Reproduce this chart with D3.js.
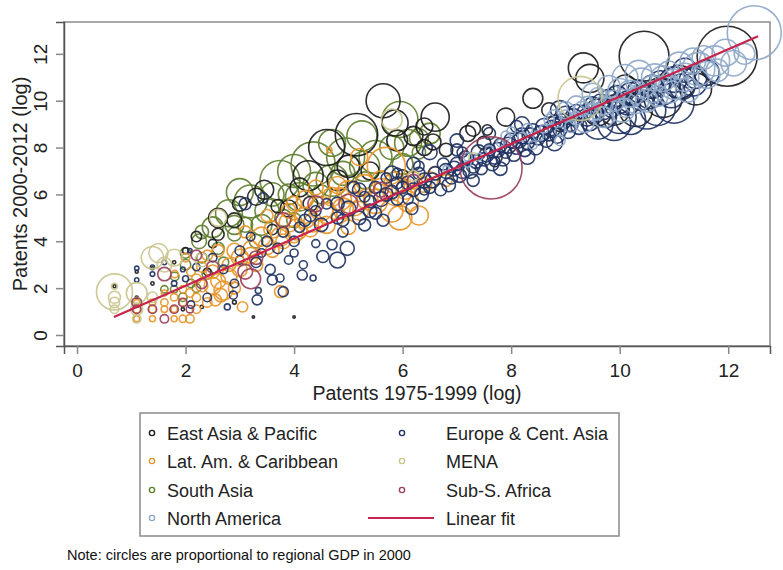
<!DOCTYPE html>
<html>
<head>
<meta charset="utf-8">
<script src="https://cdn.jsdelivr.net/npm/d3@7"></script>
<style>
  html, body { margin: 0; padding: 0; background: #fff; }
  svg { display: block; font-family: "Liberation Sans", Arial, sans-serif; }
</style>
</head>
<body>
<svg id="chart" width="783" height="570"></svg>
<script>
// ---------------- DATA ----------------
// each point: [patents 1975-1999 (log), patents 2000-2012 (log), regional GDP 2000 (relative)]
const eastAsia = [
  [11.98, 11.9, 100], [10.45, 11.9, 69], [9.33, 11.4, 25], [9.45, 10.95, 22], [8.4, 10.1, 11],
  [5.64, 10.0, 32], [5.86, 9.05, 19], [6.6, 9.3, 22], [5.15, 8.55, 50], [4.6, 8.0, 36],
  [4.26, 6.8, 25], [10.8, 10.1, 40], [10.3, 9.6, 30], [11.1, 10.8, 30], [9.9, 9.6, 25],
  [7.9, 9.3, 9], [7.3, 8.8, 6], [6.2, 8.5, 10], [3.45, 6.2, 10], [2.6, 5.0, 10],
  [3.0, 5.6, 6], [3.9, 5.4, 8], [4.8, 6.6, 12], [5.4, 7.0, 9], [6.8, 7.9, 5],
  [2.2, 4.2, 3], [2.0, 3.6, 1], [2.5, 3.9, 2], [3.6, 4.5, 3], [3.0, 3.2, 2],
  [2.4, 2.7, 1.5], [6.0, 6.8, 4], [7.7, 7.4, 3], [8.9, 9.0, 6], [6.56, 8.24, 7],
  [7.2, 8.6, 7], [6.4, 8.0, 7], [7.56, 8.75, 3], [0.69, 2.08, 0.25], [1.10, 2.7, 0.25],
  [1.39, 2.85, 0.25], [1.10, 1.6, 0.25], [1.39, 2.2, 0.3], [1.79, 3.1, 0.3], [1.95, 1.1, 0.3],
  [3.25, 0.77, 0.15], [4.0, 0.77, 0.15], [2.3, 1.2, 0.3], [2.9, 1.4, 0.4],
  [9.6, 9.5, 20], [11.4, 10.5, 28], [10.1, 10.6, 15], [8.7, 9.6, 6], [7.5, 8.2, 5],
  [5.0, 7.2, 14], [4.1, 6.3, 10], [3.3, 5.9, 8], [2.9, 4.9, 6], [5.9, 8.3, 12],
  [6.4, 8.9, 8], [4.3, 5.6, 6], [3.7, 5.5, 5], [2.6, 4.3, 4]
];
const europe = [
  [3.32, 1.5, 2.8], [3.34, 1.9, 1], [3.6, 2.35, 2.8], [3.74, 2.43, 1.8], [3.8, 1.85, 2.8],
  [4.15, 2.56, 2.8], [4.35, 2.43, 1], [4.17, 3.0, 1.8], [4.53, 3.35, 4], [4.8, 3.2, 7],
  [4.98, 3.7, 5.5], [4.7, 3.85, 2.8], [5.3, 4.7, 4], [5.64, 4.9, 4], [6.17, 5.4, 4],
  [4.4, 3.9, 1.8], [4.0, 3.5, 1.8], [3.56, 2.8, 2.8], [2.88, 1.7, 1.8], [2.77, 1.2, 1],
  [4.5, 4.7, 5], [4.8, 5.0, 4], [5.0, 5.4, 6], [5.2, 5.0, 5], [5.4, 5.7, 4],
  [5.6, 5.8, 6], [5.8, 6.1, 5], [6.0, 6.3, 4], [6.2, 6.2, 5], [6.4, 6.6, 6],
  [6.5, 6.3, 4], [6.6, 6.9, 5], [6.8, 7.0, 6], [6.9, 6.7, 4], [7.0, 7.3, 5],
  [7.1, 7.0, 6], [7.2, 7.5, 4], [7.3, 7.2, 5], [7.4, 7.8, 6], [7.5, 7.5, 5],
  [7.6, 7.9, 4], [7.7, 7.6, 6], [7.8, 8.1, 5], [7.9, 7.8, 4], [8.0, 8.3, 6],
  [8.1, 8.0, 5], [8.2, 8.5, 7], [8.3, 8.2, 5], [8.4, 8.7, 6], [8.5, 8.4, 5],
  [8.6, 8.9, 7], [8.7, 8.6, 6], [8.8, 9.1, 5], [8.9, 8.8, 6], [9.0, 9.4, 8],
  [9.1, 9.0, 6], [9.2, 9.5, 7], [9.4, 9.3, 9], [9.5, 9.8, 8], [9.7, 9.6, 10],
  [9.8, 10.1, 9], [10.0, 9.9, 12], [10.2, 10.3, 14], [10.4, 10.1, 16], [10.6, 10.6, 15],
  [10.8, 10.4, 20], [11.0, 10.9, 18], [11.2, 11.3, 16], [11.4, 11.0, 14], [9.6, 9.0, 25],
  [10.0, 9.3, 30], [10.7, 9.7, 35], [6.5, 7.8, 6], [7.0, 8.3, 5], [7.6, 8.6, 4],
  [7.3, 6.6, 4], [7.8, 7.1, 5], [8.3, 7.6, 6], [8.8, 8.2, 7], [6.1, 5.8, 3],
  [6.7, 6.2, 4], [5.9, 6.9, 3], [6.3, 7.2, 3], [7.1, 7.8, 3], [8.1, 8.9, 4],
  [2.0, 2.4, 1], [2.2, 2.9, 1.5], [2.5, 3.3, 2], [2.7, 2.8, 2], [3.0, 3.6, 2.5],
  [3.2, 4.2, 2], [3.5, 4.0, 3], [3.8, 4.4, 3], [4.1, 4.6, 3], [4.3, 5.1, 4],
  [3.3, 3.1, 3], [2.9, 2.2, 2], [2.4, 1.6, 2], [2.1, 1.3, 1.5], [1.79, 2.2, 0.8],
  [1.61, 3.1, 0.6], [1.39, 2.6, 0.6], [1.39, 2.9, 0.5], [1.10, 2.85, 0.5], [1.10, 2.35, 0.5],
  [1.95, 2.8, 0.6], [2.08, 3.6, 0.5], [3.1, 5.6, 4], [3.43, 5.85, 3], [4.6, 5.6, 3],
  [5.1, 6.3, 4], [5.7, 6.7, 3], [4.9, 4.4, 3], [5.5, 5.2, 4], [3.9, 3.2, 2],
  [5.3, 5.9, 3], [5.5, 6.3, 4], [5.7, 6.0, 5], [5.9, 6.5, 4], [6.1, 6.5, 5],
  [6.3, 6.9, 4], [6.35, 6.0, 5], [6.55, 6.6, 6], [6.75, 7.3, 4], [6.85, 6.4, 5],
  [6.95, 7.1, 6], [7.05, 6.8, 5], [7.15, 7.6, 4], [7.25, 7.0, 6], [7.35, 7.4, 5],
  [7.45, 7.1, 4], [7.55, 7.7, 6], [7.65, 7.3, 5], [7.75, 7.9, 6], [7.85, 7.5, 5],
  [7.95, 8.1, 7], [8.05, 7.7, 5], [8.15, 8.3, 6], [8.25, 7.9, 5], [8.35, 8.5, 7],
  [8.45, 8.0, 6], [8.55, 8.6, 7], [8.65, 8.3, 5], [8.75, 8.8, 8], [8.85, 8.5, 6],
  [8.95, 9.1, 7], [9.05, 8.7, 6], [9.15, 9.3, 8], [9.25, 8.9, 7], [9.35, 9.5, 6],
  [9.45, 9.1, 9], [9.55, 9.4, 8], [9.65, 9.9, 9], [9.75, 9.3, 12], [9.85, 9.7, 10],
  [9.95, 10.2, 12], [10.15, 9.9, 16], [10.35, 10.4, 14], [10.55, 10.2, 18], [10.75, 10.8, 14],
  [10.95, 10.3, 22], [11.15, 10.6, 18], [11.35, 10.8, 22], [11.6, 11.2, 18], [9.9, 9.0, 30],
  [10.5, 9.6, 40], [11.0, 9.9, 45], [10.2, 9.2, 25], [8.9, 9.6, 10], [8.2, 9.0, 6],
  [7.0, 7.9, 4], [6.2, 7.3, 5], [5.8, 6.9, 6], [5.2, 6.2, 5], [4.8, 5.6, 5],
  [4.4, 5.3, 3], [4.2, 4.9, 4], [4.0, 4.0, 3], [3.7, 3.7, 3], [3.4, 3.5, 2],
  [4.9, 4.9, 4], [5.4, 5.3, 5], [5.9, 5.8, 4], [6.4, 6.2, 3]
];
const latAm = [
  [1.10, 0.69, 1], [1.10, 1.1, 1.5], [1.10, 1.39, 1], [1.39, 0.69, 1], [1.39, 1.1, 1.5],
  [1.39, 1.39, 1.2], [1.61, 1.1, 1.2], [1.61, 1.39, 1.5], [1.61, 1.79, 1], [1.79, 0.69, 1],
  [1.79, 1.61, 1.5], [1.79, 1.1, 1.2], [1.95, 0.69, 1.5], [1.95, 1.95, 1.5], [2.08, 0.69, 2],
  [2.08, 1.79, 2], [2.2, 1.1, 2], [2.2, 2.4, 2.5], [2.4, 1.39, 2.5], [2.3, 2.9, 3],
  [2.5, 2.1, 8], [2.7, 1.9, 10], [2.6, 2.3, 6], [2.8, 2.5, 7], [2.65, 1.7, 5],
  [2.9, 2.0, 4], [3.05, 1.2, 3], [3.75, 1.85, 4], [2.0, 3.3, 2], [2.1, 2.7, 2],
  [1.8, 2.6, 1.5], [2.4, 3.4, 3], [2.6, 3.6, 4], [2.8, 3.0, 5], [3.0, 3.3, 8],
  [3.2, 3.7, 6], [3.3, 3.0, 5], [3.4, 4.2, 10], [3.6, 4.5, 8], [3.6, 3.6, 5],
  [3.8, 4.0, 6], [3.9, 4.8, 10], [4.0, 4.3, 8], [4.2, 5.0, 12], [4.3, 4.5, 6],
  [4.5, 5.4, 16], [4.6, 4.7, 8], [4.7, 5.9, 10], [4.9, 5.4, 12], [5.0, 6.1, 14],
  [5.2, 5.3, 10], [5.3, 6.4, 12], [5.5, 5.7, 16], [5.6, 6.6, 10], [5.8, 5.3, 14],
  [5.9, 6.1, 22], [6.1, 5.7, 12], [6.2, 6.6, 8], [6.4, 6.4, 6], [6.6, 6.9, 5],
  [6.8, 6.6, 4], [5.7, 7.2, 40], [4.65, 7.9, 0.8], [4.0, 5.6, 6], [3.5, 5.1, 4],
  [4.4, 6.3, 6], [3.1, 4.4, 4], [5.2, 7.6, 8], [6.3, 5.1, 10], [5.0, 4.6, 6],
  [3.5, 3.8, 8], [3.75, 4.2, 10], [4.05, 4.5, 12], [4.35, 4.8, 10], [4.6, 5.2, 12],
  [4.85, 5.8, 14], [5.1, 5.6, 16], [5.35, 5.8, 12], [5.6, 6.2, 14], [5.85, 6.5, 12],
  [6.05, 6.2, 10], [6.5, 6.6, 8], [3.0, 2.8, 6], [3.2, 3.4, 7], [2.5, 2.7, 5],
  [2.3, 2.1, 4], [2.9, 3.6, 6], [4.2, 5.8, 8], [4.8, 6.4, 8], [5.95, 5.0, 16],
  [2.55, 1.5, 4], [1.95, 1.39, 1.5], [2.2, 1.6, 2], [3.9, 5.3, 6]
];
const mena = [
  [0.69, 1.84, 36], [0.69, 1.1, 2], [0.69, 1.39, 3], [0.69, 1.61, 4], [0.69, 2.08, 1],
  [1.10, 1.79, 12], [1.10, 1.1, 4], [1.10, 0.69, 2], [1.10, 1.39, 3], [1.39, 3.3, 14],
  [1.50, 3.5, 10], [1.39, 1.61, 3], [1.61, 3.0, 6], [1.79, 3.3, 8], [2.3, 3.2, 5],
  [2.6, 5.0, 8], [9.27, 10.1, 54], [6.2, 6.8, 3], [7.3, 7.6, 2], [5.8, 9.2, 12]
];
const southAsia = [
  [3.74, 6.6, 44], [4.35, 7.3, 54], [4.95, 7.6, 40], [5.95, 9.2, 36], [3.2, 5.7, 30],
  [2.8, 5.2, 20], [2.5, 4.6, 12], [2.25, 4.0, 6], [3.5, 5.3, 16], [4.1, 5.9, 22],
  [4.7, 6.6, 28], [5.5, 7.6, 30], [6.1, 8.2, 20], [5.25, 8.5, 25], [6.0, 7.3, 12],
  [1.8, 2.5, 2], [2.0, 3.0, 3], [2.3, 3.3, 3], [2.6, 3.7, 4], [2.9, 4.3, 5],
  [1.95, 1.61, 2], [2.2, 2.0, 2], [3.1, 4.7, 6], [3.8, 5.0, 8], [4.5, 6.0, 10],
  [5.3, 6.6, 8], [6.3, 7.8, 5], [2.4, 2.6, 3], [1.61, 1.95, 1.5], [2.7, 3.1, 3],
  [3.3, 4.0, 5], [4.0, 4.9, 6], [2.1, 2.2, 2], [1.79, 1.95, 1.5], [6.5, 8.6, 12],
  [3.6, 6.0, 15], [3.0, 6.1, 20], [4.0, 7.0, 30], [5.3, 7.2, 25], [5.8, 8.0, 16],
  [2.9, 4.7, 10], [3.4, 4.7, 12], [4.4, 6.4, 18], [4.9, 6.9, 16], [2.3, 4.4, 5],
  [2.0, 3.5, 3], [3.9, 6.0, 12], [4.7, 8.2, 20], [6.3, 8.4, 10]
];
const subSAfrica = [
  [7.63, 7.13, 107], [1.10, 1.1, 2], [1.10, 1.39, 2.5], [1.39, 1.1, 2], [1.61, 2.6, 5],
  [1.61, 0.69, 2], [1.79, 1.1, 2], [1.95, 1.39, 2], [2.08, 1.1, 1.5], [2.3, 2.2, 3],
  [2.5, 2.9, 4], [2.2, 3.4, 3], [3.1, 2.7, 6], [3.3, 3.3, 5], [3.8, 4.9, 6],
  [4.4, 5.6, 7], [5.0, 5.6, 10], [5.6, 6.2, 6], [6.2, 6.6, 4], [3.2, 2.4, 11]
];
const northAmerica = [
  [12.48, 12.9, 81], [11.75, 11.7, 25], [11.45, 11.35, 30], [11.2, 11.0, 22], [11.0, 10.7, 25],
  [10.8, 10.95, 18], [10.6, 10.5, 20], [10.4, 10.75, 25], [10.2, 10.3, 20], [10.0, 10.45, 15],
  [9.9, 10.0, 12], [9.7, 9.8, 10], [9.5, 9.5, 8], [9.3, 9.65, 6], [9.2, 9.25, 5],
  [9.0, 9.35, 4], [9.6, 10.2, 8], [11.95, 12.05, 20], [11.55, 11.85, 15], [10.9, 11.25, 12],
  [11.25, 10.45, 16], [10.5, 10.0, 14], [12.1, 11.6, 18], [11.8, 11.3, 14], [8.6, 8.8, 2],
  [8.2, 8.45, 2], [7.8, 8.2, 1.5], [8.9, 8.7, 2.5], [8.4, 8.1, 2], [7.4, 7.6, 1.5],
  [8.0, 8.7, 2], [8.7, 9.2, 3], [9.1, 8.9, 4], [9.4, 9.9, 5], [7.2, 7.3, 1.2],
  [6.8, 7.1, 1], [10.1, 9.7, 10], [10.7, 10.2, 12],
  [9.2, 9.8, 10], [9.5, 10.3, 12], [9.8, 10.6, 14], [10.1, 11.0, 18], [10.35, 11.15, 20],
  [10.65, 11.0, 20], [10.9, 10.5, 22], [11.1, 11.5, 20], [11.35, 11.7, 18], [11.6, 11.1, 20],
  [9.0, 9.6, 8], [8.8, 9.3, 6], [9.35, 9.05, 10], [9.7, 9.3, 12], [10.05, 9.6, 16],
  [10.3, 10.0, 18], [8.5, 8.5, 3], [8.3, 8.8, 3], [7.9, 8.5, 2.5], [7.6, 7.9, 2],
  [7.2, 7.6, 2], [8.9, 8.3, 3], [9.6, 9.5, 6], [12.3, 12.0, 12]
];
// linear fit: y = intercept + slope * x, over observed x range
const fitIntercept = 0.08;
const fitSlope = 1.01;
const fitRange = [0.68, 12.55];

const xTicks = [0, 2, 4, 6, 8, 10, 12];
const yTicks = [0, 2, 4, 6, 8, 10, 12];
const xTitle = "Patents 1975-1999 (log)";
const yTitle = "Patents 2000-2012 (log)";
const note = "Note: circles are proportional to regional GDP in 2000";
const fitLabel = "Linear fit";

// draw order & legend order
const groups = [
  { name: "South Asia", data: southAsia, color: "#5f7f2f" },
  { name: "East Asia & Pacific", data: eastAsia, color: "#1c1c1c" },
  { name: "Lat. Am. & Caribbean", data: latAm, color: "#e8962a" },
  { name: "Europe & Cent. Asia", data: europe, color: "#1f3263" },
  { name: "North America", data: northAmerica, color: "#8fa9c9" },
  { name: "MENA", data: mena, color: "#c9c68e" },
  { name: "Sub-S. Africa", data: subSAfrica, color: "#98405c" }
];
const legendCol1 = ["East Asia & Pacific", "Lat. Am. & Caribbean", "South Asia", "North America"];
const legendCol2 = ["Europe & Cent. Asia", "MENA", "Sub-S. Africa"];
const fitColor = "#c8234c";

// ---------------- CHART ----------------
const svg = d3.select("#chart");
const plot = { left: 64, right: 770, top: 22, bottom: 346 };

const x = d3.scaleLinear().domain([-0.24, 12.77]).range([plot.left, plot.right]);
const y = d3.scaleLinear().domain([-0.47, 13.36]).range([plot.bottom, plot.top]);
const r = d3.scaleSqrt().domain([0, 100]).range([0, 30]);

// plot frame
svg.append("rect")
  .attr("x", plot.left).attr("y", plot.top)
  .attr("width", plot.right - plot.left).attr("height", plot.bottom - plot.top)
  .attr("fill", "none").attr("stroke", "#8a8a8a").attr("stroke-width", 1.5);

// axes
const xAxis = svg.append("g")
  .attr("transform", `translate(0,${plot.bottom})`)
  .call(d3.axisBottom(x).tickValues(xTicks).tickSize(8).tickPadding(4).tickFormat(d3.format("d")));
xAxis.select(".domain").attr("stroke", "#555").attr("stroke-width", 1.5);
xAxis.selectAll(".tick line").attr("stroke", "#888").attr("stroke-width", 1.5);
xAxis.selectAll(".tick text")
  .attr("font-size", 19).attr("fill", "#222").attr("dy", null).attr("y", 31)
  .style("font-family", '"Liberation Sans", Arial, sans-serif');

const yAxis = svg.append("g")
  .attr("transform", `translate(${plot.left},0)`)
  .call(d3.axisLeft(y).tickValues(yTicks).tickSize(8).tickFormat(d3.format("d")));
yAxis.select(".domain").attr("stroke", "#555").attr("stroke-width", 1.5);
yAxis.selectAll(".tick line").attr("stroke", "#888").attr("stroke-width", 1.5);
yAxis.selectAll(".tick text")
  .attr("x", null).attr("dy", null)
  .attr("transform", "translate(-17,0) rotate(-90)")
  .attr("text-anchor", "middle").attr("y", 0)
  .attr("font-size", 19).attr("fill", "#222")
  .style("font-family", '"Liberation Sans", Arial, sans-serif');

// axis titles
svg.append("text")
  .attr("x", (plot.left + plot.right) / 2).attr("y", 400)
  .attr("text-anchor", "middle").attr("font-size", 19.5).attr("fill", "#222")
  .text(xTitle);
svg.append("text")
  .attr("transform", `translate(27,${(plot.top + plot.bottom) / 2}) rotate(-90)`)
  .attr("text-anchor", "middle").attr("font-size", 20).attr("fill", "#222")
  .text(yTitle);

// circles
const marks = svg.append("g");
groups.forEach(g => {
  marks.append("g")
    .selectAll("circle")
    .data(g.data)
    .join("circle")
    .attr("cx", d => x(d[0]))
    .attr("cy", d => y(d[1]))
    .attr("r", d => Math.max(1, r(d[2])))
    .attr("fill", "none")
    .attr("stroke", g.color)
    .attr("stroke-width", 1.6)
    .attr("stroke-opacity", 0.92);
});

// linear fit
svg.append("line")
  .attr("x1", x(fitRange[0])).attr("y1", y(fitIntercept + fitSlope * fitRange[0]))
  .attr("x2", x(fitRange[1])).attr("y2", y(fitIntercept + fitSlope * fitRange[1]))
  .attr("stroke", fitColor).attr("stroke-width", 2.2);

// legend
const lg = svg.append("g");
lg.append("rect")
  .attr("x", 140).attr("y", 413).attr("width", 479).attr("height", 123)
  .attr("fill", "#fff").attr("stroke", "#8a8a8a").attr("stroke-width", 1.5);
const colorOf = name => groups.find(g => g.name === name).color;
const rowY = [433, 461, 490, 518];
legendCol1.forEach((name, i) => {
  lg.append("circle").attr("cx", 152).attr("cy", rowY[i]).attr("r", 2.6)
    .attr("fill", "none").attr("stroke", colorOf(name)).attr("stroke-width", 1.4);
  lg.append("text").attr("x", 167).attr("y", rowY[i] + 6.5)
    .attr("font-size", 18).attr("fill", "#222").text(name);
});
legendCol2.forEach((name, i) => {
  lg.append("circle").attr("cx", 402).attr("cy", rowY[i]).attr("r", 2.6)
    .attr("fill", "none").attr("stroke", colorOf(name)).attr("stroke-width", 1.4);
  lg.append("text").attr("x", 446).attr("y", rowY[i] + 6.5)
    .attr("font-size", 18).attr("fill", "#222").text(name);
});
lg.append("line").attr("x1", 368).attr("x2", 434).attr("y1", rowY[3]).attr("y2", rowY[3])
  .attr("stroke", fitColor).attr("stroke-width", 2);
lg.append("text").attr("x", 446).attr("y", rowY[3] + 6.5)
  .attr("font-size", 18).attr("fill", "#222").text(fitLabel);

// note
svg.append("text").attr("x", 67).attr("y", 560)
  .attr("font-size", 14.5).attr("fill", "#111").text(note);
</script>
</body>
</html>
